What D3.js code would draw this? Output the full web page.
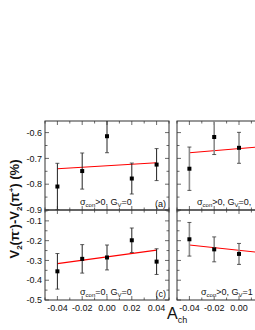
<!DOCTYPE html>
<html>
<head>
<meta charset="utf-8">
<script src="https://cdn.jsdelivr.net/npm/d3@7"></script>
<style>
  body { margin: 0; background: #fff; }
  svg { display: block; font-family: "Liberation Sans", Arial, sans-serif; }
</style>
</head>
<body>
<svg id="chart" width="255" height="330"></svg>
<script>
// A_ch positions of the points
const achValues = [-0.04, -0.02, 0.00, 0.02, 0.04];
const achVisible = [-0.04, -0.02, 0.00];
const fitRange = [-0.04, 0.04];

// (a) sigma_con>0, G_V=0
const valuesA = [-0.809, -0.749, -0.614, -0.778, -0.724];
const errorsA = [0.09, 0.07, 0.064, 0.06, 0.062];
const fitA = [-0.740, -0.717];

// (c) sigma_con=0, G_V=0
const valuesC = [-0.355, -0.292, -0.285, -0.198, -0.306];
const errorsC = [0.09, 0.072, 0.063, 0.062, 0.065];
const fitC = [-0.316, -0.248];

// (b) sigma_con>0, G_V=0, ... (right part is cut off)
const valuesB = [-0.740, -0.617, -0.659];
const errorsB = [0.084, 0.068, 0.06];
const fitB = [-0.678, -0.646];

// (d) sigma_con>0, G_V=1 ...
const valuesD = [-0.193, -0.244, -0.267];
const errorsD = [0.085, 0.063, 0.053];
const fitD = [-0.222, -0.275];

const topTicks = [-0.9, -0.8, -0.7, -0.6];
const bottomTicks = [-0.5, -0.4, -0.3, -0.2, -0.1];
const xTicks = [-0.04, -0.02, 0.00, 0.02, 0.04];
const xTicksRight = [-0.04, -0.02, 0.00];

const svg = d3.select('#chart');

const xLeft = d3.scaleLinear().domain([-0.05, 0.05]).range([45, 169]);
const xRight = d3.scaleLinear().domain([-0.05, 0.05]).range([177, 301]);
const yTop = d3.scaleLinear().domain([-0.9, -0.555]).range([210, 121]);
const yBottom = d3.scaleLinear().domain([-0.5, -0.045]).range([300, 210]);

const panels = [
  {id: 'a', x: xLeft, y: yTop, xs: achValues, vals: valuesA, errs: errorsA, fit: fitA,
   yTicks: topTicks, showY: true, xLabels: null, barColor: '#222', barWidth: 1,
   label: ['>0, G', '=0'], labelX: 80, labelY: 205, tag: '(a)'},
  {id: 'c', x: xLeft, y: yBottom, xs: achValues, vals: valuesC, errs: errorsC, fit: fitC,
   yTicks: bottomTicks, showY: true, xLabels: xTicks, barColor: '#222', barWidth: 1,
   label: ['=0, G', '=0'], labelX: 80, labelY: 295, tag: '(c)'},
  {id: 'b', x: xRight, y: yTop, xs: achVisible, vals: valuesB, errs: errorsB, fit: fitB,
   yTicks: topTicks, showY: false, xLabels: null, barColor: '#8c8c8c', barWidth: 1.6,
   label: ['>0, G', '=0,'], labelX: 197, labelY: 205, tag: null},
  {id: 'd', x: xRight, y: yBottom, xs: achVisible, vals: valuesD, errs: errorsD, fit: fitD,
   yTicks: bottomTicks, showY: false, xLabels: xTicksRight, barColor: '#8c8c8c', barWidth: 1.6,
   label: ['>0, G', '=1'], labelX: 201, labelY: 295, tag: null}
];

panels.forEach(p => {
  const [x0, x1] = p.x.range();
  const [y0, y1] = p.y.range(); // y0 bottom, y1 top
  const g = svg.append('g');

  g.append('clipPath').attr('id', 'clip-' + p.id)
    .append('rect').attr('x', x0).attr('y', y1).attr('width', x1 - x0).attr('height', y0 - y1);

  // minor/major ticks, all pointing inward
  const yMinor = d3.range(Math.ceil(p.y.domain()[0] / 0.05), Math.floor(p.y.domain()[1] / 0.05) + 1).map(i => i * 0.05);
  const xMinor = d3.range(-5, 6).map(i => i * 0.01);
  const tickG = g.append('g').attr('stroke', '#444').attr('stroke-width', 0.8);
  yMinor.forEach(v => {
    const major = Math.abs(Math.round(v * 10) - v * 10) < 1e-6;
    const len = major ? 4 : 2.5;
    tickG.append('line').attr('x1', x0).attr('x2', x0 + len).attr('y1', p.y(v)).attr('y2', p.y(v));
    tickG.append('line').attr('x1', x1).attr('x2', x1 - len).attr('y1', p.y(v)).attr('y2', p.y(v));
  });
  xMinor.forEach(v => {
    const major = Math.abs(Math.round(v * 50) - v * 50) < 1e-6;
    const len = major ? 4 : 2.5;
    tickG.append('line').attr('x1', p.x(v)).attr('x2', p.x(v)).attr('y1', y1).attr('y2', y1 + len);
    tickG.append('line').attr('x1', p.x(v)).attr('x2', p.x(v)).attr('y1', y0).attr('y2', y0 - len);
  });

  // frame
  g.append('rect').attr('x', x0).attr('y', y1).attr('width', x1 - x0).attr('height', y0 - y1)
    .attr('fill', 'none').attr('stroke', '#333').attr('stroke-width', 1);

  if (p.showY) {
    g.append('g').selectAll('text').data(p.yTicks).join('text')
      .attr('x', x0 - 3).attr('y', d => p.y(d)).attr('dy', '0.35em')
      .attr('text-anchor', 'end').attr('font-size', 9).attr('fill', '#111')
      .text(d => d.toFixed(1));
  }
  if (p.xLabels) {
    g.append('g').selectAll('text').data(p.xLabels).join('text')
      .attr('x', d => p.x(d)).attr('y', y0 + 11)
      .attr('text-anchor', 'middle').attr('font-size', 9).attr('fill', '#111')
      .text(d => d.toFixed(2));
  }

  const plot = g.append('g').attr('clip-path', `url(#clip-${p.id})`);

  // linear fit
  plot.append('line')
    .attr('x1', p.x(fitRange[0])).attr('y1', p.y(p.fit[0]))
    .attr('x2', p.x(fitRange[1])).attr('y2', p.y(p.fit[1]))
    .attr('stroke', '#f00').attr('stroke-width', 1.1);

  // error bars
  const pts = p.xs.map((a, i) => ({a, v: p.vals[i], e: p.errs[i]}));
  plot.selectAll('.bar').data(pts).join('line').attr('class', 'bar')
    .attr('x1', d => p.x(d.a)).attr('x2', d => p.x(d.a))
    .attr('y1', d => p.y(d.v - d.e)).attr('y2', d => p.y(d.v + d.e))
    .attr('stroke', p.barColor).attr('stroke-width', p.barWidth);
  ['lo', 'hi'].forEach(k => {
    plot.selectAll('.cap-' + k).data(pts).join('line').attr('class', 'cap-' + k)
      .attr('x1', d => p.x(d.a) - 2).attr('x2', d => p.x(d.a) + 2)
      .attr('y1', d => p.y(k === 'lo' ? d.v - d.e : d.v + d.e))
      .attr('y2', d => p.y(k === 'lo' ? d.v - d.e : d.v + d.e))
      .attr('stroke', '#333').attr('stroke-width', 0.8);
  });
  plot.selectAll('.pt').data(pts).join('rect').attr('class', 'pt')
    .attr('x', d => p.x(d.a) - 2).attr('y', d => p.y(d.v) - 2)
    .attr('width', 4).attr('height', 4).attr('fill', '#000');

  // panel label
  const t = g.append('text').attr('x', p.labelX).attr('y', p.labelY)
    .attr('font-size', 9).attr('fill', '#111');
  t.append('tspan').text('σ');
  t.append('tspan').attr('font-size', 6).attr('dy', 2).text('con');
  t.append('tspan').attr('dy', -2).text(p.label[0]);
  t.append('tspan').attr('font-size', 6).attr('dy', 2).text('V');
  t.append('tspan').attr('dy', -2).text(p.label[1]);

  if (p.tag) {
    g.append('text').attr('x', x1 - 3).attr('y', y0 - 3)
      .attr('text-anchor', 'end').attr('font-size', 9).attr('fill', '#111').text(p.tag);
  }
});

// axis titles
const yTitle = svg.append('text')
  .attr('transform', 'translate(19,209) rotate(-90)')
  .attr('text-anchor', 'middle').attr('font-size', 13).attr('font-weight', 'bold').attr('fill', '#111');
yTitle.append('tspan').text('V');
yTitle.append('tspan').attr('font-size', 8).attr('dy', 3).text('2');
yTitle.append('tspan').attr('dy', -3).text('(π');
yTitle.append('tspan').attr('font-size', 8).attr('dy', -5).text('-');
yTitle.append('tspan').attr('dy', 5).text(')-V');
yTitle.append('tspan').attr('font-size', 8).attr('dy', 3).text('2');
yTitle.append('tspan').attr('dy', -3).text('(π');
yTitle.append('tspan').attr('font-size', 8).attr('dy', -5).text('+');
yTitle.append('tspan').attr('dy', 5).text(') (%)');

const xTitle = svg.append('text').attr('x', 167).attr('y', 319)
  .attr('font-size', 16).attr('fill', '#111');
xTitle.append('tspan').text('A');
xTitle.append('tspan').attr('font-size', 9).attr('dy', 4).text('ch');
</script>
</body>
</html>
